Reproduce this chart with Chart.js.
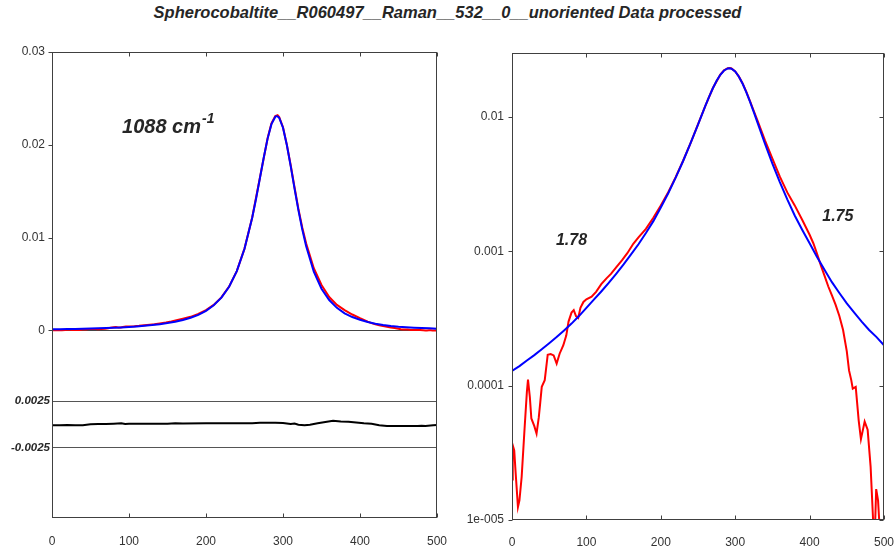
<!DOCTYPE html>
<html><head><meta charset="utf-8">
<script src="https://cdn.jsdelivr.net/npm/chart.js@4/dist/chart.umd.min.js"></script>
<style>
html,body{margin:0;padding:0;background:#fff;width:895px;height:555px;overflow:hidden;}
#title{position:absolute;left:0;top:3px;width:895px;text-align:center;font:italic bold 16.5px "Liberation Sans",Arial,sans-serif;color:#262626;white-space:nowrap;}
.wrap{position:absolute;top:0;height:555px;}
</style></head><body>
<div id="title">Spherocobaltite__R060497__Raman__532__0__unoriented Data processed</div>
<div class="wrap" style="left:0;width:447px"><canvas id="c1" width="447" height="555"></canvas></div>
<div class="wrap" style="left:447px;width:448px"><canvas id="c2" width="448" height="555"></canvas></div>
<script>
// ---- data ----
const fitX = [0,10,20,30,40,50,60,70,80,90,100,110,120,130,140,150,160,170,180,190,200,210,220,230,240,250,260,265,270,275,280,285,290,292,295,300,305,310,315,320,325,330,340,350,360,370,380,390,400,410,420,430,440,450,460,470,480,490,500];
const fitY = [1.29e-4,1.40e-4,1.54e-4,1.69e-4,1.87e-4,2.07e-4,2.30e-4,2.58e-4,2.90e-4,3.30e-4,3.80e-4,4.37e-4,5.03e-4,5.82e-4,6.80e-4,8.00e-4,9.50e-4,1.13e-3,1.37e-3,1.68e-3,2.12e-3,2.71e-3,3.54e-3,4.71e-3,6.39e-3,8.80e-3,1.215e-2,1.419e-2,1.640e-2,1.864e-2,2.067e-2,2.223e-2,2.303e-2,2.31e-2,2.292e-2,2.184e-2,1.998e-2,1.770e-2,1.528e-2,1.297e-2,1.089e-2,9.10e-3,6.34e-3,4.50e-3,3.28e-3,2.44e-3,1.85e-3,1.45e-3,1.15e-3,9.1e-4,7.3e-4,5.9e-4,4.9e-4,4.1e-4,3.5e-4,3.0e-4,2.6e-4,2.3e-4,2.0e-4];

const dataX = [0,1,3,5,8,10,13,17,20,21.5,24,26,30,33,36,38,40,44,48,52,56,60,64,69,73,76,80,83,86,89,92,96,100,107,113,120,127,133,140,148,155,163,170,180,190,200,210,220,230,240,250,260,270,280,285,290,293,295,300,305,310,315,320,325,330,340,350,360,370,380,390,400,405,410,415,420,425,430,435,440,445,450,453,456,458,462,466,469,474,478,482,485,487,489.5,492,494,496,500];
const dataY = [2.0e-5,3.6e-5,3.3e-5,2.2e-5,1.25e-5,1.4e-5,2.1e-5,4.9e-5,9.0e-5,1.11e-4,8.2e-5,5.7e-5,5.0e-5,4.4e-5,5.8e-5,7.5e-5,9.8e-5,1.10e-4,1.70e-4,1.72e-4,1.68e-4,1.46e-4,1.73e-4,2.0e-4,2.37e-4,3.0e-4,3.5e-4,3.65e-4,3.3e-4,3.2e-4,3.8e-4,4.2e-4,4.4e-4,4.6e-4,5.0e-4,5.7e-4,6.3e-4,6.8e-4,7.6e-4,8.6e-4,9.7e-4,1.14e-3,1.27e-3,1.47e-3,1.78e-3,2.2e-3,2.76e-3,3.57e-3,4.73e-3,6.40e-3,8.82e-3,1.218e-2,1.645e-2,2.07e-2,2.23e-2,2.31e-2,2.32e-2,2.30e-2,2.19e-2,2.00e-2,1.78e-2,1.54e-2,1.31e-2,1.11e-2,9.4e-3,6.7e-3,4.9e-3,3.6e-3,2.75e-3,2.2e-3,1.72e-3,1.33e-3,1.15e-3,9.6e-4,7.9e-4,6.6e-4,5.5e-4,4.7e-4,4.0e-4,3.3e-4,2.6e-4,1.8e-4,1.3e-4,1.1e-4,9.5e-5,9.8e-5,5.5e-5,4.0e-5,5.4e-5,4.7e-5,2.5e-5,1.1e-5,6e-6,1.7e-5,1.4e-5,9e-6,4e-6,4e-6];

const resX = [0,10,20,30,40,50,60,70,80,90,95,100,120,140,150,160,170,200,230,250,260,270,290,300,310,315,320,328,335,345,355,365,375,385,395,405,415,425,435,450,465,475,480,485,495,500];
const resY = [-0.0001,-0.00012,-0.00008,-0.00012,-0.0001,0.0,0.00003,0.00003,0.00006,0.0001,0.00003,0.00005,0.00005,0.00006,0.00006,0.0001,0.00008,0.0001,0.0001,0.00012,0.0001,0.00015,0.00015,0.00013,0.00003,0.00008,-0.00005,-0.0001,-0.00005,0.0001,0.00025,0.00038,0.0003,0.00028,0.0002,0.0001,0.00005,-0.0001,-0.0002,-0.0002,-0.0002,-0.0002,-0.00015,-0.0002,-0.00012,-0.00008];

const xTicks = [0,100,200,300,400,500];
const linTicks = [0,0.01,0.02,0.03];
const linTickLabels = ['0','0.01','0.02','0.03'];
const resTicks = [-0.0025,0.0025];
const resTickLabels = ['-0.0025','0.0025'];
const logTicks = [1e-5,1e-4,1e-3,1e-2];
const logTickLabels = ['1e-005','0.0001','0.001','0.01'];

// ---- helpers ----
const pts = (xs, ys) => xs.map((x, i) => ({x, y: ys[i]}));
const FONT = '"Liberation Sans", Arial, sans-serif';
const tickFont = {family: FONT, size: 12};
const setTicks = (vals) => (s) => { s.ticks = vals.map(v => ({value: v})); };
const labelFrom = (vals, labels) => (v) => { const i = vals.findIndex(t => Math.abs(t - v) < 1e-12); return i >= 0 ? labels[i] : ''; };

const framePlugin = {
  id: 'frame',
  beforeDatasetsDraw(chart, args, opts) {
    const ctx = chart.ctx, a = chart.chartArea;
    ctx.save();
    (opts.hlines || []).forEach(h => {
      const py = Math.round(chart.scales[h.axis].getPixelForValue(h.value)) + 0.5;
      ctx.strokeStyle = h.color; ctx.lineWidth = 1;
      ctx.beginPath(); ctx.moveTo(a.left, py); ctx.lineTo(a.right, py); ctx.stroke();
    });
    ctx.restore();
  },
  afterDatasetsDraw(chart, args, opts) {
    const ctx = chart.ctx, a = chart.chartArea;
    ctx.save();
    ctx.strokeStyle = opts.color || '#404040'; ctx.lineWidth = 1;
    const L = Math.round(a.left) + 0.5, R = Math.round(a.right) - 0.5, T = Math.round(a.top) + 0.5, B = Math.round(a.bottom) - 0.5;
    ctx.strokeRect(L, T, R - L, B - T);
    ctx.beginPath();
    const sx = chart.scales.x, sy = chart.scales.y;
    sx.ticks.forEach(t => { const px = Math.round(sx.getPixelForValue(t.value)) + 0.5; ctx.moveTo(px, B); ctx.lineTo(px, B - 4); ctx.moveTo(px, T); ctx.lineTo(px, T + 4); });
    sy.ticks.forEach(t => { const py = Math.round(sy.getPixelForValue(t.value)) + 0.5; ctx.moveTo(L, py); ctx.lineTo(L - 4, py); if (opts.rightTicks) { ctx.moveTo(R, py); ctx.lineTo(R - 4, py); } });
    ctx.stroke();
    (opts.labels || []).forEach(l => {
      const px = sx.getPixelForValue(l.x), py = chart.scales[l.axis || 'y'].getPixelForValue(l.y);
      ctx.fillStyle = l.color || '#262626'; ctx.font = l.font; ctx.textAlign = 'left'; ctx.textBaseline = 'alphabetic';
      ctx.fillText(l.text, px, py);
      if (l.sup) { const w = ctx.measureText(l.text).width; ctx.font = l.supFont; ctx.fillText(l.sup, px + w + 1, py - l.supRise); }
    });
    ctx.restore();
  }
};

const xScale = (h, pad) => ({
  type: 'linear', min: 0, max: 500,
  afterBuildTicks: setTicks(xTicks),
  afterFit: (s) => { s.height = h; s.paddingLeft = 0; s.paddingRight = 0; },
  ticks: {padding: pad, font: tickFont, color: '#333', maxRotation: 0, autoSkip: false, callback: (v) => String(v)},
  grid: {display: false}, border: {display: false}
});

// ---- left chart (linear + residual) ----
new Chart(document.getElementById('c1'), {
  type: 'line',
  data: {datasets: [
    {label: 'data', data: pts(dataX, dataY), borderColor: '#ff0000', borderWidth: 2, pointRadius: 0, yAxisID: 'y', order: 2},
    {label: 'fit', data: pts(fitX, fitY), borderColor: '#0000ff', borderWidth: 2, pointRadius: 0, yAxisID: 'y', order: 1},
    {label: 'residual', data: pts(resX, resY), borderColor: '#000000', borderWidth: 2, pointRadius: 0, yAxisID: 'yr', order: 0}
  ]},
  options: {
    responsive: false, animation: false, events: [],
    layout: {padding: {top: 52, right: 10, left: 0, bottom: 0}},
    plugins: {
      legend: {display: false}, tooltip: {enabled: false},
      frame: {
        color: '#404040', rightTicks: false,
        hlines: [{axis: 'y', value: 0, color: '#444'}, {axis: 'yr', value: 0.0025, color: '#555'}, {axis: 'yr', value: -0.0025, color: '#555'}],
        labels: [{x: 91, y: 0.0213, text: '1088 cm', font: 'italic bold 20px ' + FONT, sup: '-1', supFont: 'italic bold 14px ' + FONT, supRise: 10}]
      }
    },
    scales: {
      x: xScale(37, 8),
      y: {type: 'linear', position: 'left', weight: 1, min: -0.0202, max: 0.03,
        afterBuildTicks: setTicks(linTicks), afterFit: (s) => { s.width = 52; s.paddingTop = 0; s.paddingBottom = 0; },
        ticks: {padding: -1, font: tickFont, color: '#333', callback: labelFrom(linTicks, linTickLabels)},
        grid: {display: false}, border: {display: false}},
      yr: {type: 'linear', position: 'left', weight: 0, min: -0.0101, max: 0.0401,
        afterBuildTicks: setTicks(resTicks), afterFit: (s) => { s.width = 0; s.paddingTop = 0; s.paddingBottom = 0; },
        ticks: {mirror: true, crossAlign: 'far', padding: -41, font: {family: FONT, size: 11.5, style: 'italic', weight: 'bold'}, color: '#262626', callback: labelFrom(resTicks, resTickLabels)},
        grid: {display: false}, border: {display: false}}
    }
  },
  plugins: [framePlugin]
});

// ---- right chart (log) ----
new Chart(document.getElementById('c2'), {
  type: 'line',
  data: {datasets: [
    {label: 'data', data: pts(dataX, dataY), borderColor: '#ff0000', borderWidth: 2, pointRadius: 0, order: 2},
    {label: 'fit', data: pts(fitX, fitY), borderColor: '#0000ff', borderWidth: 2, pointRadius: 0, order: 1}
  ]},
  options: {
    responsive: false, animation: false, events: [],
    layout: {padding: {top: 53, right: 11, left: 0, bottom: 0}},
    plugins: {
      legend: {display: false}, tooltip: {enabled: false},
      frame: {
        color: '#404040', rightTicks: true,
        labels: [
          {x: 59, y: 1.12e-3, text: '1.78', font: 'italic bold 16px ' + FONT},
          {x: 417, y: 1.69e-3, text: '1.75', font: 'italic bold 16px ' + FONT}
        ]
      }
    },
    scales: {
      x: xScale(35, 7),
      y: {type: 'logarithmic', position: 'left', min: 1e-5, max: 0.03,
        afterBuildTicks: setTicks(logTicks), afterFit: (s) => { s.width = 65; s.paddingTop = 0; s.paddingBottom = 0; },
        ticks: {padding: 0, font: tickFont, color: '#333', callback: labelFrom(logTicks, logTickLabels)},
        grid: {display: false}, border: {display: false}}
    }
  },
  plugins: [framePlugin]
});
</script>
</body></html>
